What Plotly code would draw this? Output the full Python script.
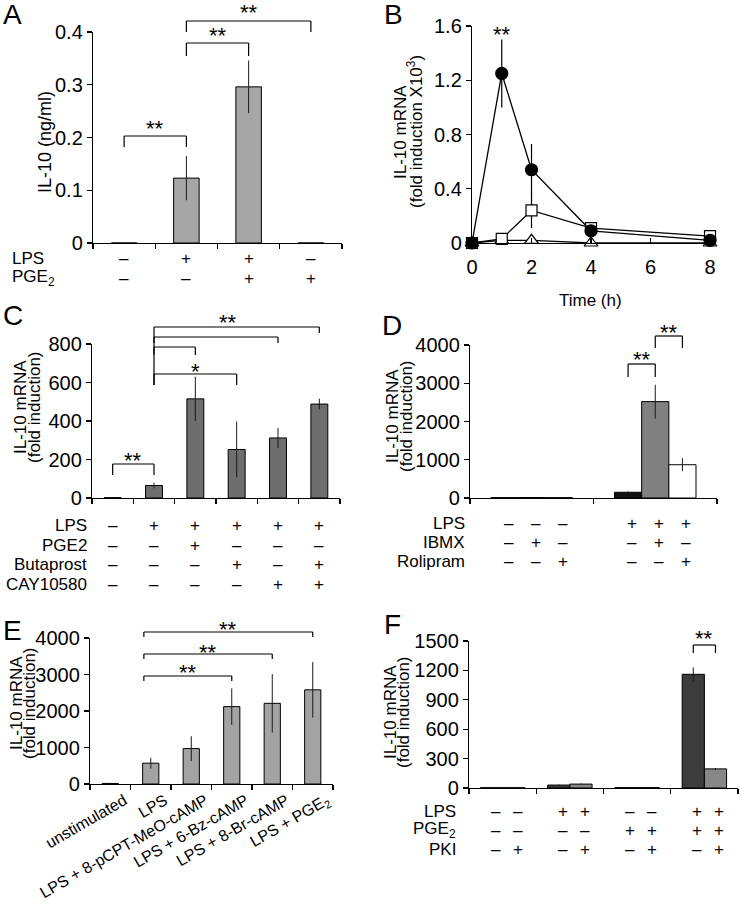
import plotly.graph_objects as go

W, H = 740, 913
FONT = "Liberation Sans, Arial, Helvetica, sans-serif"

# ---------------- data ----------------
# Panel A
a_lps = ["–", "+", "+", "–"]
a_pge2 = ["–", "–", "+", "+"]
a_il10 = [0, 0.123, 0.296, 0]
a_il10_err = [0, 0.042, 0.05, 0]

# Panel B
b_time = [0, 1, 2, 4, 8]
b_lps_pge2 = [0.0, 1.25, 0.54, 0.09, 0.02]
b_lps_pge2_err = [0.0, 0.25, 0.19, 0.02, 0.01]
b_lps = [0.0, 0.03, 0.24, 0.11, 0.05]
b_lps_err = [0.0, 0.01, 0.13, 0.01, 0.01]
b_pge2 = [0.0, 0.02, 0.02, 0.0, 0.0]
b_pge2_err = [0.0, 0.0, 0.0, 0.0, 0.0]

# Panel C
c_lps = ["–", "+", "+", "+", "+", "+"]
c_pge2 = ["–", "–", "+", "–", "–", "–"]
c_butaprost = ["–", "–", "–", "+", "–", "+"]
c_cay10580 = ["–", "–", "–", "–", "+", "+"]
c_mrna = [2, 65, 515, 252, 312, 488]
c_mrna_err = [1, 15, 115, 145, 52, 28]

# Panel D
d_control = [10, 150]
d_control_err = [0, 20]
d_ibmx = [12, 2520]
d_ibmx_err = [0, 440]
d_rolipram = [10, 870]
d_rolipram_err = [0, 170]
d_lps_row = ["–", "–", "–", "+", "+", "+"]
d_ibmx_row = ["–", "+", "–", "–", "+", "–"]
d_rolipram_row = ["–", "–", "+", "–", "–", "+"]

# Panel E
e_labels = ["unstimulated", "LPS", "LPS + 8-pCPT-MeO-cAMP", "LPS + 6-Bz-cAMP",
            "LPS + 8-Br-cAMP", "LPS + PGE<sub>2</sub>"]
e_mrna = [15, 570, 970, 2120, 2210, 2580]
e_mrna_err = [5, 150, 340, 500, 800, 760]

# Panel F
f_no_pki = [3, 30, 4, 1160]
f_no_pki_err = [1, 5, 1, 70]
f_pki = [3, 40, 4, 195]
f_pki_err = [1, 6, 1, 10]
f_lps_row = ["–", "–", "+", "+", "–", "–", "+", "+"]
f_pge2_row = ["–", "–", "–", "–", "+", "+", "+", "+"]
f_pki_row = ["–", "+", "–", "+", "–", "+", "–", "+"]

# ---------------- layout helpers ----------------
BARGAP = 0.34


def px_x(px):
    return px / W


def px_y(py):
    return 1 - py / H


panels = {
    "A": dict(x="x", y="y", xpx=(93, 342), ypx=(32, 243), xr=[0, 4], yr=[0, 0.4]),
    "B": dict(x="x2", y="y2", xpx=(472, 713), ypx=(26, 243), xr=[0, 8.1], yr=[0, 1.6]),
    "C": dict(x="x3", y="y3", xpx=(92, 340), ypx=(344, 498), xr=[0, 6], yr=[0, 800]),
    "D": dict(x="x4", y="y4", xpx=(470, 717), ypx=(345, 498), xr=[0, 2], yr=[0, 4000]),
    "E": dict(x="x5", y="y5", xpx=(90, 333), ypx=(638, 784), xr=[0, 6], yr=[0, 4000]),
    "F": dict(x="x6", y="y6", xpx=(469, 738), ypx=(641, 788), xr=[0, 4], yr=[0, 1500]),
}

fig = go.Figure()

ERR = dict(type="data", width=0, thickness=1, color="#1a1a1a")
BAR_LINE = dict(color="black", width=1)

# A
pA = panels["A"]
fig.add_trace(go.Bar(x=[i + 0.5 for i in range(len(a_il10))], y=a_il10, width=0.41,
                     marker=dict(color="#a6a6a6", line=BAR_LINE),
                     error_y=dict(array=a_il10_err, **ERR),
                     xaxis=pA["x"], yaxis=pA["y"]))

# B
pB = panels["B"]
for vals, errs, sym, fill, size in [
    (b_pge2, b_pge2_err, "triangle-up", "white", 12),
    (b_lps, b_lps_err, "square", "white", 11),
    (b_lps_pge2, b_lps_pge2_err, "circle", "black", 12),
]:
    fig.add_trace(go.Scatter(x=b_time, y=vals, mode="lines+markers", cliponaxis=False,
                             line=dict(color="black", width=1.3),
                             marker=dict(symbol=sym, size=size, color=fill,
                                         line=dict(color="black", width=1.2)),
                             error_y=dict(array=errs, type="data", width=0,
                                          thickness=1.2, color="black"),
                             xaxis=pB["x"], yaxis=pB["y"]))

# C
pC = panels["C"]
fig.add_trace(go.Bar(x=[i + 0.5 for i in range(len(c_mrna))], y=c_mrna, width=0.41,
                     marker=dict(color="#6e6e6e", line=BAR_LINE),
                     error_y=dict(array=c_mrna_err, **ERR),
                     xaxis=pC["x"], yaxis=pC["y"]))

# D
pD = panels["D"]
for vals, errs, col in [(d_control, d_control_err, "#111111"),
                        (d_ibmx, d_ibmx_err, "#808080"),
                        (d_rolipram, d_rolipram_err, "white")]:
    fig.add_trace(go.Bar(x=[i + 0.5 for i in range(len(vals))], y=vals,
                         marker=dict(color=col, line=BAR_LINE),
                         error_y=dict(array=errs, **ERR),
                         xaxis=pD["x"], yaxis=pD["y"]))

# E
pE = panels["E"]
fig.add_trace(go.Bar(x=[i + 0.5 for i in range(len(e_mrna))], y=e_mrna, width=0.4,
                     marker=dict(color="#a3a3a3", line=BAR_LINE),
                     error_y=dict(array=e_mrna_err, **ERR),
                     xaxis=pE["x"], yaxis=pE["y"]))

# F
pF = panels["F"]
for vals, errs, col in [(f_no_pki, f_no_pki_err, "#3c3c3c"),
                        (f_pki, f_pki_err, "#878787")]:
    fig.add_trace(go.Bar(x=[i + 0.5 for i in range(len(vals))], y=vals,
                         marker=dict(color=col, line=BAR_LINE),
                         error_y=dict(array=errs, **ERR),
                         xaxis=pF["x"], yaxis=pF["y"]))

# ---------------- axes ----------------
layout_axes = {}
for key, p in panels.items():
    xname = "xaxis" if p["x"] == "x" else "xaxis" + p["x"][1:]
    yname = "yaxis" if p["y"] == "y" else "yaxis" + p["y"][1:]
    common = dict(showline=True, linecolor="black", linewidth=1.2, ticks="outside",
                  ticklen=5, tickwidth=1.2, tickcolor="black", showgrid=False,
                  zeroline=False, fixedrange=True, automargin=False,
                  tickfont=dict(size=20, color="black", family=FONT))
    xa = dict(common, domain=[px_x(p["xpx"][0]), px_x(p["xpx"][1])], range=p["xr"],
              anchor=p["y"])
    ya = dict(common, domain=[px_y(p["ypx"][1]), px_y(p["ypx"][0])], range=p["yr"],
              anchor=p["x"])
    n = int(p["xr"][1])
    if key == "B":
        xa.update(tickvals=[0, 2, 4, 6, 8], ticks="inside", ticklabelstandoff=6)
        ya.update(tickvals=[0, 0.4, 0.8, 1.2, 1.6])
    elif key == "E":
        xa.update(tickvals=[i + 0.5 for i in range(n)], ticktext=e_labels, ticks="",
                  tickangle=-30, ticklabelshift=14,
                  tickfont=dict(size=16, color="black", family=FONT),
                  minor=dict(tickvals=list(range(n + 1)), ticks="outside", ticklen=5,
                             tickwidth=1.2, tickcolor="black"))
    else:
        xa.update(tickvals=list(range(n + 1)), showticklabels=False)
    if key == "A":
        ya.update(tickvals=[0, 0.1, 0.2, 0.3, 0.4])
    elif key == "C":
        ya.update(tickvals=[0, 200, 400, 600, 800])
    elif key in ("D", "E"):
        ya.update(tickvals=[0, 1000, 2000, 3000, 4000])
    elif key == "F":
        ya.update(tickvals=[0, 300, 600, 900, 1200, 1500])
    layout_axes[xname] = xa
    layout_axes[yname] = ya

# ---------------- annotations & shapes ----------------
ann = []
shapes = []


def text(x, y, s, size=17, xref="paper", xanchor="center", angle=0, xshift=0):
    ann.append(dict(x=x, y=y, xref=xref, yref="paper", text=s, showarrow=False,
                    xanchor=xanchor, yanchor="middle", textangle=angle, xshift=xshift,
                    font=dict(size=size, color="black", family=FONT)))


def line(xref, x0, x1, y0px, y1px):
    shapes.append(dict(type="line", xref=xref, yref="paper", x0=x0, x1=x1,
                       y0=px_y(y0px), y1=px_y(y1px),
                       line=dict(color="black", width=1.2)))


def bracket(p, x0, x1, ytop, yleft, yright, label=None, label_y=None, label_x=None):
    xr = p["x"]
    line(xr, x0, x1, ytop, ytop)
    line(xr, x0, x0, ytop, yleft)
    line(xr, x1, x1, ytop, yright)
    if label:
        lx = (x0 + x1) / 2 if label_x is None else label_x
        text(lx, px_y(label_y + 5), label, size=22, xref=xr)


# panel letters
for letter, (x, y) in {"A": (12, 15), "B": (393, 15), "C": (13, 315), "D": (392, 326),
                       "E": (12, 630), "F": (392, 624)}.items():
    text(px_x(x), px_y(y), letter, size=28)

# y titles
text(px_x(45), px_y(142), "IL-10 (ng/ml)", size=18, angle=-90)
text(px_x(400), px_y(132), "IL-10 mRNA", size=17, angle=-90)
text(px_x(415), px_y(132), "(fold induction X10<sup>3</sup>)", size=17, angle=-90)
for (x1, x2, yc) in [(20, 34, 407), (392, 406, 416), (16, 29, 703), (390, 403, 712)]:
    text(px_x(x1), px_y(yc), "IL-10 mRNA", size=17, angle=-90)
    text(px_x(x2), px_y(yc), "(fold induction)", size=17, angle=-90)

# B x title
text(px_x(590), px_y(301), "Time (h)", size=17)

# row labels and +/- signs
def sign_rows(p, rows, xs, label_x, anchor, xshift=0):
    for name, y, vals in rows:
        text(px_x(label_x), px_y(y), name, size=17, xanchor=anchor)
        for xv, s in zip(xs, vals):
            text(xv, px_y(y), s, size=17, xref=p["x"], xshift=xshift)


sign_rows(pA, [("LPS", 258, a_lps), ("PGE<sub>2</sub>", 278, a_pge2)],
          [i + 0.5 for i in range(4)], 10, "left")
sign_rows(pC, [("LPS", 525, c_lps), ("PGE2", 545, c_pge2), ("Butaprost", 564, c_butaprost),
               ("CAY10580", 584, c_cay10580)],
          [i + 0.5 for i in range(6)], 89, "right")
d_x = [g + 0.5 + (k - 1) * (1 - BARGAP) / 3 for g in range(2) for k in range(3)]
sign_rows(pD, [("LPS", 523, d_lps_row), ("IBMX", 542, d_ibmx_row),
               ("Rolipram", 561, d_rolipram_row)], d_x, 467, "right", xshift=4)
f_x = [g + 0.5 + (k - 0.5) * (1 - BARGAP) / 2 for g in range(4) for k in range(2)]
sign_rows(pF, [("LPS", 811, f_lps_row), ("PGE<sub>2</sub>", 830, f_pge2_row),
               ("PKI", 849, f_pki_row)], f_x, 458, "right", xshift=4)

# significance brackets
bracket(pA, 0.5, 1.5, 136, 147, 147, "**", 123)
bracket(pA, 1.5, 2.5, 43, 56, 56, "**", 31)
bracket(pA, 1.5, 3.5, 21, 32, 32, "**", 8)
text(1, px_y(30 + 5), "**", size=22, xref=pB["x"])
bracket(pC, 0.5, 1.5, 464, 475, 475, "**", 455)
bracket(pC, 1.5, 5.5, 327, 385, 333, "**", 317, label_x=3.3)
bracket(pC, 1.5, 4.5, 337, 343, 343)
bracket(pC, 1.5, 2.5, 347, 355, 355)
bracket(pC, 1.5, 3.5, 374, 385, 385, "*", 367)
bracket(pD, d_x[3], d_x[4], 364, 377, 377, "**", 355)
bracket(pD, d_x[4], d_x[5], 336, 348, 348, "**", 327)
bracket(pE, 1.33, 3.5, 676, 681, 681, "**", 667)
bracket(pE, 1.33, 4.5, 654, 659, 659, "**", 647)
bracket(pE, 1.33, 5.5, 632, 637, 637, "**", 624)
bracket(pF, f_x[6], f_x[7], 645, 653, 653, "**", 633)

fig.update_layout(
    template="none",
    width=W, height=H, margin=dict(l=0, r=0, t=0, b=0, pad=0), autosize=False,
    paper_bgcolor="white", plot_bgcolor="rgba(0,0,0,0)",
    showlegend=False, barmode="group", bargap=BARGAP,
    font=dict(family=FONT, color="black"),
    annotations=ann, shapes=shapes, **layout_axes,
)

fig.write_html("out.html",
               config={"displayModeBar": False, "staticPlot": True},
               post_script="document.body.style.margin='0';"
                           "document.body.style.overflow='hidden';")
